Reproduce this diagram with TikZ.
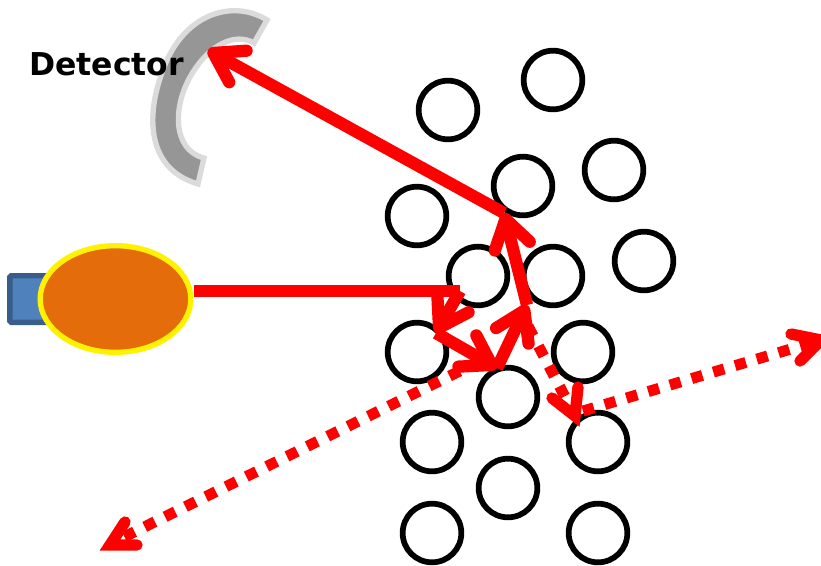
\documentclass[tikz,border=0pt]{standalone}
\usepackage{fontspec}
\setmainfont{DejaVu Sans}
\usetikzlibrary{arrows.meta,shapes.geometric}
\definecolor{beamred}{HTML}{FF0000}
\definecolor{boxedge}{HTML}{385D8A}
\definecolor{boxfill}{HTML}{4F81BD}
\definecolor{lampfill}{HTML}{E46C0A}
\tikzset{
  x=0.75pt,y=-0.75pt,
  atom/.style={circle,draw=black,line width=4.3pt,minimum size=44pt,inner sep=0pt,fill=none},
  ray/.style={draw=beamred,line width=8.5pt},
  tipped/.style={draw=beamred,line width=9.2pt,-{Straight Barb[round,length=21pt,width=27pt,line width=9.2pt]}},
  dotray/.style={draw=beamred,line width=8.2pt,dash pattern=on 8.5pt off 8.5pt},
  dottip/.style={draw=beamred,line width=8.5pt,line cap=round,line join=miter},
}
\begin{document}
\begin{tikzpicture}
\useasboundingbox (0,0) rectangle (821,565);
% atoms
\foreach \n/\px/\py in {a1/448/110,a2/553/80,a3/523/186,a4/614/170,a5/417/216,a6/644/261,a7/478/276,a8/553/276,a9/417/352,a10/583/352,a11/508/397,a12/432/442,a13/598/442,a14/508/488,a15/432/533,a16/598/533}
  \node[atom] (\n) at (\px,\py) {};
% detector
\draw[draw=black!14,fill=black!41,line width=4pt,line join=miter]
  (267,20) .. controls (235,0) and (190,12) .. (168,58)
  .. controls (145,108) and (143,168) .. (198,184)
  -- (204,158)
  .. controls (172,150) and (172,105) .. (193,72)
  .. controls (210,45) and (235,32) .. (254,43) -- cycle;
\node[font=\bfseries,text=black,inner sep=0pt,anchor=base west] (label) at (29,75) {\fontsize{23.6pt}{28pt}\selectfont Detector};
% source
\node[draw=boxedge,fill=boxfill,line width=4pt,rounded corners=1pt,minimum width=28pt,minimum height=35pt,inner sep=0pt] (box) at (28.5,299) {};
\node[ellipse,draw=yellow,fill=lampfill,line width=4pt,minimum width=113pt,minimum height=80pt,inner sep=0pt] (lamp) at (115.5,299) {};
% scattering points
\coordinate (p0) at (460,291);
\coordinate (p1) at (436,333);
\coordinate (p2) at (497,368);
\coordinate (p3) at (527,305);
\coordinate (p4) at (504,213);
\coordinate (p5) at (208,50);
\coordinate (q0) at (110,545);
\coordinate (q1) at (575,416);
\coordinate (q2) at (821,340);
\coordinate (q3) at (528,326);
\coordinate (q4) at (583,411);
\coordinate (q5) at (480,361);
% rays
\draw[ray] (lamp.east |- p0) -- (p0);
\draw[tipped] (p0) -- (p1);
\draw[tipped] (p1) -- (p2);
\draw[tipped] (p2) -- (p3);
\draw[tipped] (p3) -- (p4);
\draw[tipped] (p4) -- (p5);
\draw[dotray] (q5) -- ([shift={(8,-5)}]q0);
\draw[dottip] (125,522) -- (q0) -- (137,545);
\draw[dotray] (q3) -- (q1);
\draw[dottip] (552,398) -- (q1) -- (578,387);
\draw[dotray] (q4) -- (q2);
\draw[dottip] (791,334) -- (q2) -- (800,361);
\end{tikzpicture}
\end{document}
